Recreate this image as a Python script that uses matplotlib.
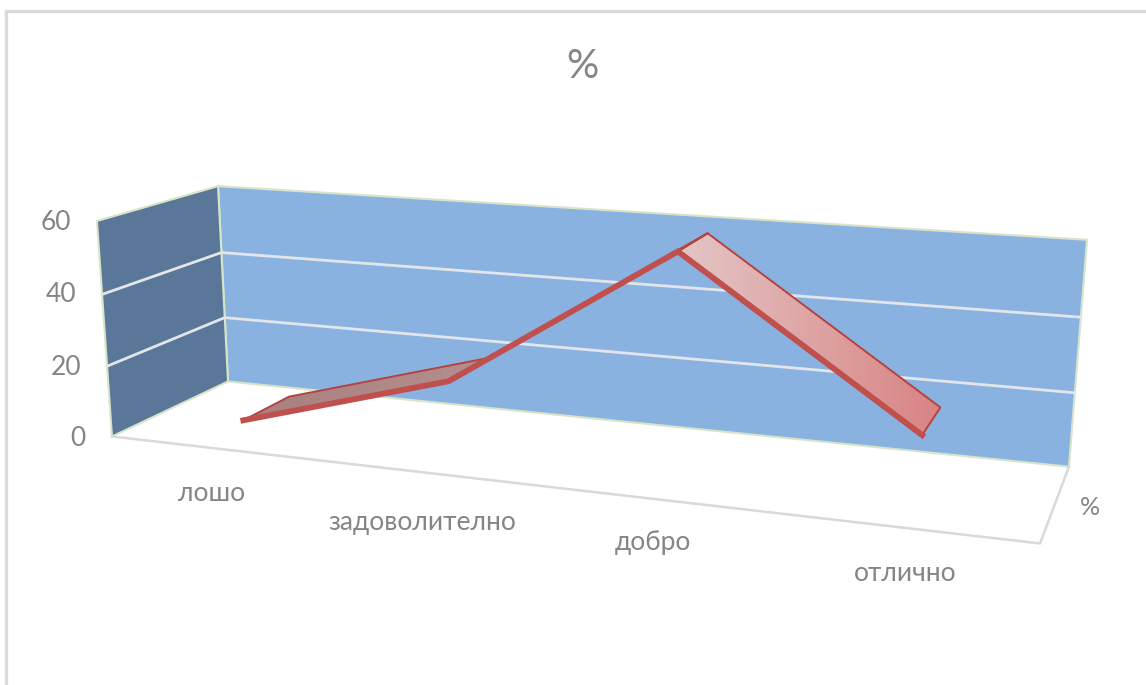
import numpy as np
import matplotlib
matplotlib.use('Agg')
import matplotlib.pyplot as plt
from matplotlib.colors import LinearSegmentedColormap
from matplotlib.patches import Polygon

plt.rcParams['font.family'] = ['Lato', 'DejaVu Sans']

# данни
categories = ['лошо', 'задоволително', 'добро', 'отлично']
values = [3, 20, 59, 18]
value_ticks = [0, 20, 40, 60]
series_name = '%'
title = '%'

# ъгли на кутията: (категория, стойност, дълбочина) -> пиксел
box = [
    ((0, 0, 0), (112, 436)),
    ((0, 60, 0), (97, 221)),
    ((0, 0, 1), (228, 382)),
    ((0, 60, 1), (218, 186)),
    ((4, 0, 1), (1069, 466)),
    ((4, 60, 1), (1087, 240)),
    ((4, 0, 0), (1040, 544)),
]

# перспективна матрица, намерена с най-малки квадрати
A, b = [], []
for (x, y, z), (u, v) in box:
    A.append([x, y, z, 1, 0, 0, 0, 0, -u * x, -u * y, -u * z])
    b.append(u)
    A.append([0, 0, 0, 0, x, y, z, 1, -v * x, -v * y, -v * z])
    b.append(v)
p = np.linalg.lstsq(np.array(A, float), np.array(b, float), rcond=None)[0]
P = np.append(p, 1).reshape(3, 4)


def proj(x, y, z):
    u, v, w = P @ np.array([x, y, z, 1.0])
    return u / w, v / w


fig = plt.figure(figsize=(11.46, 6.85), dpi=100)
ax = fig.add_axes([0, 0, 1, 1])
ax.set_xlim(0, 1146)
ax.set_ylim(685, 0)
ax.axis('off')

# рамка
ax.plot([6, 6, 1146], [685, 11, 11], color='#DADADA', lw=2.4, solid_joinstyle='miter')

edge = '#D6E4C8'
grid = '#E2E6EA'
text_c = '#858585'

# стени
back = [proj(0, 0, 1), proj(4, 0, 1), proj(4, 60, 1), proj(0, 60, 1)]
side = [proj(0, 0, 0), proj(0, 0, 1), proj(0, 60, 1), proj(0, 60, 0)]
ax.add_patch(Polygon(back, fc='#8AB2E1', ec=edge, lw=1.5, zorder=1))
ax.add_patch(Polygon(side, fc='#5A7799', ec=edge, lw=1.5, zorder=1))

for t in value_ticks[1:-1]:
    pts = [proj(0, t, 0), proj(0, t, 1), proj(4, t, 1)]
    ax.plot(*zip(*pts), color=grid, lw=2.0, zorder=2)

# под
floor = [proj(0, 0, 0), proj(4, 0, 0), proj(4, 0, 1)]
ax.plot(*zip(*floor), color='#D9D9D9', lw=1.8, zorder=2)

# лента на серията
z_front, z_back = 0.28, 0.70
xs = [i + 0.5 for i in range(len(categories))]
front = [proj(x, v, z_front) for x, v in zip(xs, values)]
rear = [proj(x, v, z_back) for x, v in zip(xs, values)]
shades = [('#A97F7F', '#B48F8F'), ('#B58A8A', '#B58A8A'), ('#E4C6C6', '#D98383')]

for i in range(len(values) - 1):
    quad = [front[i], front[i + 1], rear[i + 1], rear[i]]
    ax.add_patch(Polygon(quad, fc='none', ec='#B5433F', lw=1.4, zorder=4, joinstyle='round'))
    arr = np.array(quad)
    cm = LinearSegmentedColormap.from_list('s', shades[i])
    grad = np.linspace(0, 1, 128).reshape(1, -1)
    im = ax.imshow(grad, cmap=cm, aspect='auto', zorder=3,
                   extent=[arr[:, 0].min(), arr[:, 0].max(), arr[:, 1].max(), arr[:, 1].min()])
    im.set_clip_path(Polygon(quad, transform=ax.transData))
ax.set_xlim(0, 1146)
ax.set_ylim(685, 0)

ax.plot(*zip(*front), color='#C0504D', lw=4.2, zorder=5, solid_joinstyle='miter')

# подписи
for t, dy in zip(value_ticks, [2, 1, 0, 2]):
    u, v = proj(0, t, 0)
    ax.text(u - 26, v + dy, str(t), ha='right', va='center', fontsize=19, color=text_c)

label_dy = [53, 58, 51, 53]
for x, name, dy in zip(xs, categories, label_dy):
    u, v = proj(x, 0, 0)
    ax.text(u, v + dy, name, ha='center', va='baseline', fontsize=19, color=text_c)

u, v = proj(4, 0, 0.5)
ax.text(u + 35, v + 5, series_name, ha='center', va='center', fontsize=18, color=text_c)
ax.text(582, 66, title, ha='center', va='center', fontsize=29, color=text_c)

fig.savefig('out.png', dpi=100)
